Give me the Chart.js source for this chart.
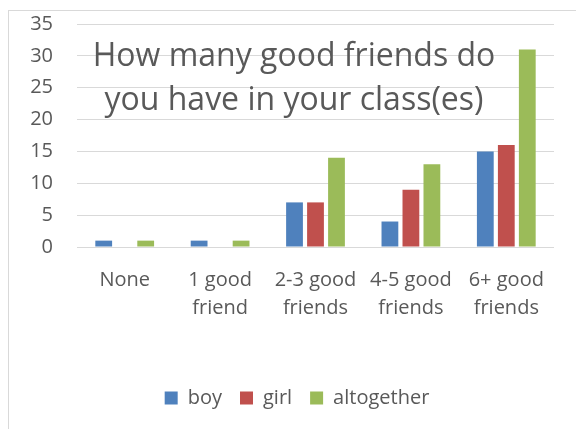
<!DOCTYPE html>
<html>
<head>
<meta charset="utf-8">
<script src="https://cdn.jsdelivr.net/npm/chart.js@4.4.1/dist/chart.umd.min.js"></script>
<style>
  html, body { margin: 0; padding: 0; background: #fff; }
  #wrap { width: 576px; height: 429px; }
</style>
</head>
<body>
<div id="wrap"><canvas id="friendsChart" width="576" height="429"></canvas></div>
<script>
// chart data
const categories = [
  ["None"],
  ["1 good", "friend"],
  ["2-3 good", "friends"],
  ["4-5 good", "friends"],
  ["6+ good", "friends"],
];
const boyValues = [1, 1, 7, 4, 15];
const girlValues = [0, 0, 7, 9, 16];
const altogetherValues = [1, 1, 14, 13, 31];
const titleLines = ["How many good friends do", "you have in your class(es)"];

const FONT = "'Open Sans', Lato, sans-serif";
const TEXT_COLOR = "#595959";
const GRID_COLOR = "#d9d9d9";

// frame around the whole chart, like the office export
const framePlugin = {
  id: "frame",
  beforeDraw: (chart) => {
    const { ctx } = chart;
    ctx.save();
    ctx.strokeStyle = GRID_COLOR;
    ctx.lineWidth = 1;
    ctx.strokeRect(8.5, 10.5, chart.width, chart.height);
    ctx.restore();
  },
};

// legend in the reference is a bit right of the plot centre
const legendShiftPlugin = {
  id: "legendShift",
  afterLayout: (chart) => {
    if (chart.legend) {
      chart.legend.left += 10;
      chart.legend.right += 10;
    }
  },
};

// title sits inside the plot area, over the gridlines
const overlayTitlePlugin = {
  id: "overlayTitle",
  afterDatasetsDraw: (chart) => {
    const { ctx, chartArea } = chart;
    ctx.save();
    ctx.font = `32px ${FONT}`;
    ctx.fillStyle = TEXT_COLOR;
    ctx.textAlign = "center";
    ctx.textBaseline = "alphabetic";
    const cx = 294;
    ctx.fillText(titleLines[0], cx, chartArea.top + 42);
    ctx.fillText(titleLines[1], cx, chartArea.top + 86);
    ctx.restore();
  },
};

const ctx = document.getElementById("friendsChart").getContext("2d");

new Chart(ctx, {
  type: "bar",
  data: {
    labels: categories,
    datasets: [
      { label: "boy", data: boyValues, backgroundColor: "#4f81bd" },
      { label: "girl", data: girlValues, backgroundColor: "#c0504d" },
      { label: "altogether", data: altogetherValues, backgroundColor: "#9bbb59" },
    ],
  },
  options: {
    responsive: false,
    animation: false,
    devicePixelRatio: 1,
    categoryPercentage: 0.66,
    barPercentage: 0.8,
    layout: {
      padding: { left: 20, right: 22, top: 24, bottom: 11 },
    },
    plugins: {
      title: { display: false },
      tooltip: { enabled: false },
      legend: {
        position: "bottom",
        labels: {
          boxWidth: 13,
          boxHeight: 13,
          padding: 18,
          color: TEXT_COLOR,
          font: { family: FONT, size: 20 },
        },
      },
    },
    scales: {
      x: {
        grid: { display: false, drawTicks: false },
        border: { display: false },
        ticks: {
          color: TEXT_COLOR,
          font: { family: FONT, size: 20, lineHeight: 1.4 },
          padding: 19,
          maxRotation: 0,
          autoSkip: false,
        },
        afterFit: (scale) => {
          scale.height = 123;
        },
      },
      y: {
        min: 0,
        max: 35,
        ticks: {
          stepSize: 5,
          color: TEXT_COLOR,
          font: { family: FONT, size: 20 },
          padding: 0,
        },
        // invisible tick marks give the label gap without padding the top
        grid: {
          color: GRID_COLOR,
          lineWidth: 1,
          drawTicks: true,
          tickLength: 24,
          tickColor: "rgba(0,0,0,0)",
        },
        border: { display: false },
        afterFit: (scale) => {
          scale.width = 57;
        },
      },
    },
  },
  plugins: [framePlugin, legendShiftPlugin, overlayTitlePlugin],
});
</script>
</body>
</html>
